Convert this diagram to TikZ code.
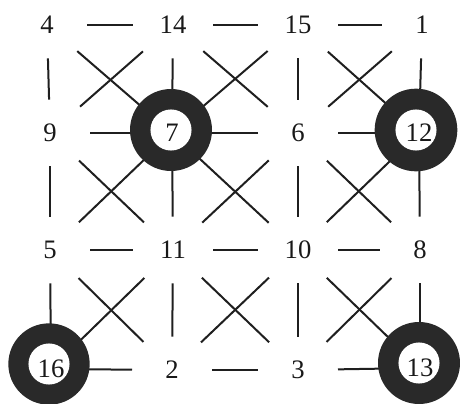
\documentclass[tikz,border=0pt]{standalone}
\usepackage{fontspec}
\setmainfont{Liberation Serif}
\pgfdeclarelayer{lines}
\pgfdeclarelayer{rings}
\pgfsetlayers{lines,rings,main}
\begin{document}
\begin{tikzpicture}[x=0.75pt,y=-0.75pt,
  num/.style={inner sep=0pt,font=\fontsize{20}{20}\selectfont,text=black!90},
  link/.style={draw=black!88,line width=1.5pt},
  hl/.style={link,shorten <=30pt,shorten >=30pt},
  vl/.style={link,shorten <=25pt,shorten >=25pt},
  dl/.style={link,shorten <=30pt,shorten >=30pt},
  toring/.style={shorten >=20pt},
  ringc/.style={fill=black!84},
  hole/.style={fill=white}
]
\useasboundingbox (0,0) rectangle (460,403);
% nodes
\node[num] (n4)  at (47,25)  {4};
\node[num] (n14) at (173,25) {14};
\node[num] (n15) at (298,25) {15};
\node[num] (n1)  at (422,25) {1};
\node[num] (n9)  at (50,133) {9};
\node[num] (n7)  at (172,133) {7};
\node[num] (n6)  at (298,133) {6};
\node[num] (n12) at (419,133) {12};
\node[num] (n5)  at (50,250) {5};
\node[num] (n11) at (173,250) {11};
\node[num] (n10) at (298,250) {10};
\node[num] (n8)  at (420,250) {8};
\node[num] (n16) at (51,369) {16};
\node[num] (n2)  at (172,370) {2};
\node[num] (n3)  at (298,370) {3};
\node[num] (n13) at (420,368) {13};
\begin{pgfonlayer}{lines}
% horizontal
\draw[hl] (n4.center) -- (n14.center);
\draw[hl] (n14.center) -- (n15.center);
\draw[hl] (n15.center) -- (n1.center);
\draw[hl,toring] (n9.center) -- (n7.center);
\draw[hl,toring] (n6.center) -- (n7.center);
\draw[hl,toring] (n6.center) -- (n12.center);
\draw[hl] (n5.center) -- (n11.center);
\draw[hl] (n11.center) -- (n10.center);
\draw[hl] (n10.center) -- (n8.center);
\draw[hl,toring] (n2.center) -- (n16.center);
\draw[hl] (n2.center) -- (n3.center);
\draw[hl,toring] (n3.center) -- (n13.center);
% vertical
\draw[vl] (n4.center) -- (n9.center);
\draw[vl] (n9.center) -- (n5.center);
\draw[vl,toring] (n5.center) -- (n16.center);
\draw[vl,toring] (n14.center) -- (n7.center);
\draw[vl,toring] (n11.center) -- (n7.center);
\draw[vl] (n11.center) -- (n2.center);
\draw[vl] (n15.center) -- (n6.center);
\draw[vl] (n6.center) -- (n10.center);
\draw[vl] (n10.center) -- (n3.center);
\draw[vl,toring] (n1.center) -- (n12.center);
\draw[vl,toring] (n8.center) -- (n12.center);
\draw[vl,toring] (n8.center) -- (n13.center);
% diagonals
\draw[dl,toring] (n4.center) -- (n7.center);
\draw[dl] (n14.center) -- (n9.center);
\draw[dl] (n14.center) -- (n6.center);
\draw[dl,toring] (n15.center) -- (n7.center);
\draw[dl,toring] (n15.center) -- (n12.center);
\draw[dl] (n1.center) -- (n6.center);
\draw[dl] (n9.center) -- (n11.center);
\draw[dl,toring] (n5.center) -- (n7.center);
\draw[dl] (n6.center) -- (n11.center);
\draw[dl,toring] (n10.center) -- (n7.center);
\draw[dl] (n6.center) -- (n8.center);
\draw[dl,toring] (n10.center) -- (n12.center);
\draw[dl] (n5.center) -- (n2.center);
\draw[dl,toring] (n11.center) -- (n16.center);
\draw[dl] (n11.center) -- (n3.center);
\draw[dl] (n10.center) -- (n2.center);
\draw[dl] (n8.center) -- (n3.center);
\draw[dl,toring] (n10.center) -- (n13.center);
\end{pgfonlayer}
\begin{pgfonlayer}{rings}
\fill[ringc] (n7.center) ++(-1,-3) circle[radius=30.75pt];
\fill[hole] (n7.center) ++(-1,-3) circle[radius=15.4pt];
\fill[ringc] (n12.center) ++(-3,-3) circle[radius=31pt];
\fill[hole] (n12.center) ++(-3,-3) circle[radius=15.4pt];
\fill[ringc] (n16.center) ++(-2,-5) circle[radius=30.5pt];
\fill[hole] (n16.center) ++(-2,-5) circle[radius=15.4pt];
\fill[ringc] (n13.center) ++(-1,-5) circle[radius=30.75pt];
\fill[hole] (n13.center) ++(-1,-5) circle[radius=15.4pt];
\end{pgfonlayer}
\end{tikzpicture}
\end{document}
